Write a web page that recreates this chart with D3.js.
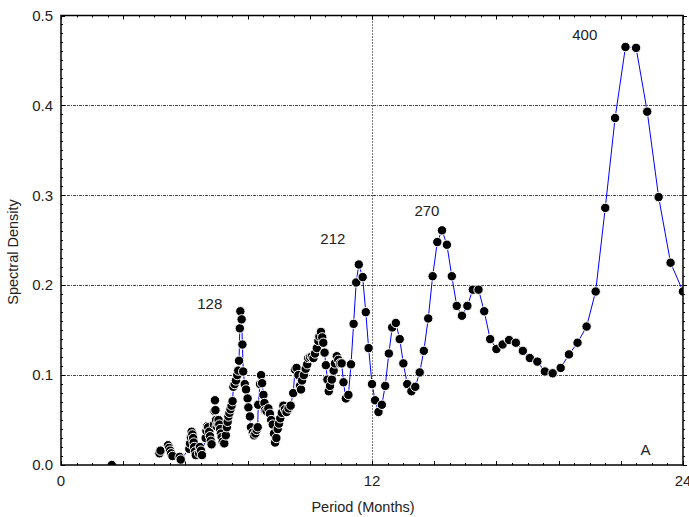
<!DOCTYPE html>
<html>
  <head>
    <script src="https://d3js.org/d3.v7.min.js"></script>
    <style>
      body { margin: 0; background: #fff; }
      text { font-family: "Liberation Sans", Arial, sans-serif; fill: #222; }
    </style>
  </head>
  <body>
    <div id="chart"></div>
    <script>
      // Data (period in months, spectral density)
      const period = [
        3.80, 3.84, 4.13, 4.17, 4.21, 4.25, 4.30, 4.58, 4.62,
        4.95, 4.98, 5.01, 5.04, 5.07, 5.10, 5.12, 5.14, 5.17, 5.20,
        5.33, 5.36, 5.40, 5.44, 5.58, 5.61, 5.64, 5.68, 5.72, 5.75, 5.78, 5.81,
        5.90, 5.92, 5.94, 5.96, 5.98, 6.01, 6.05, 6.08, 6.11, 6.14, 6.17, 6.20,
        6.24, 6.30, 6.36, 6.40, 6.43, 6.46, 6.50, 6.54, 6.58, 6.62, 6.65, 6.70,
        6.75, 6.80, 6.84, 6.87, 6.90, 6.92, 6.97, 7.00, 7.03, 7.09, 7.14, 7.20,
        7.23, 7.29, 7.33, 7.40, 7.45, 7.50, 7.55, 7.59, 7.61, 7.68, 7.72, 7.76,
        7.81, 7.85, 7.87, 7.93, 8.00, 8.06, 8.11, 8.17, 8.22, 8.26, 8.31, 8.36,
        8.41, 8.46, 8.52, 8.58, 8.64, 8.70, 8.78, 8.86, 8.96, 9.03, 9.09, 9.16,
        9.22, 9.26, 9.30, 9.37, 9.44, 9.50, 9.54, 9.61, 9.68, 9.74, 9.80, 9.87,
        9.93, 9.97, 10.03, 10.08, 10.12, 10.17, 10.22, 10.28, 10.33, 10.38, 10.45,
        10.52, 10.57, 10.64, 10.70, 10.77, 10.83, 10.90, 10.99, 11.09, 11.19,
        11.29, 11.39, 11.49, 11.64, 11.76, 11.87, 12.00, 12.12, 12.25, 12.38,
        12.51, 12.65, 12.78, 12.92, 13.07, 13.21, 13.36, 13.52, 13.67, 13.84,
        14.00, 14.17, 14.34, 14.52, 14.70, 14.89, 15.08, 15.27, 15.47, 15.68,
        15.89, 16.11, 16.33, 16.56, 16.80, 17.04, 17.29, 17.55, 17.82, 18.09,
        18.38, 18.67, 18.97, 19.28, 19.60, 19.93, 20.28, 20.63, 21.00, 21.38,
        21.78, 22.19, 22.62, 23.06, 23.52, 24.00
      ];
      const density = [
        0.013, 0.016, 0.022, 0.019, 0.016, 0.013, 0.010, 0.009, 0.006,
        0.018, 0.024, 0.031, 0.037, 0.034, 0.030, 0.025, 0.020, 0.015, 0.011,
        0.013, 0.020, 0.016, 0.011, 0.030, 0.038, 0.043, 0.042, 0.037, 0.032, 0.027, 0.023,
        0.045, 0.060, 0.072, 0.061, 0.050, 0.043, 0.046, 0.050, 0.045, 0.040, 0.035, 0.031,
        0.026, 0.024, 0.033, 0.042, 0.048, 0.054, 0.058, 0.062, 0.066, 0.071, 0.087, 0.090,
        0.094, 0.100, 0.105, 0.116, 0.152, 0.171, 0.162, 0.134, 0.104, 0.090, 0.084, 0.074,
        0.064, 0.054, 0.042, 0.036, 0.033, 0.035, 0.039, 0.042, 0.067, 0.090, 0.100, 0.091,
        0.078, 0.069, 0.061, 0.060, 0.063, 0.057, 0.050, 0.045, 0.035, 0.025, 0.030, 0.040,
        0.046, 0.052, 0.058, 0.066, 0.062, 0.059, 0.063, 0.066, 0.080, 0.106, 0.108, 0.100,
        0.088, 0.084, 0.094, 0.100, 0.107, 0.112, 0.119, 0.120, 0.121, 0.119, 0.124, 0.130,
        0.138, 0.143, 0.148, 0.142, 0.136, 0.125, 0.111, 0.095, 0.082, 0.088, 0.095,
        0.105, 0.113, 0.121, 0.117, 0.113, 0.113, 0.092, 0.074, 0.078, 0.112,
        0.157, 0.203, 0.223, 0.209, 0.170, 0.130, 0.090, 0.072, 0.059, 0.067,
        0.088, 0.124, 0.153, 0.158, 0.140, 0.113, 0.090, 0.082, 0.087, 0.103,
        0.127, 0.163, 0.210, 0.248, 0.261, 0.245, 0.210, 0.177, 0.166, 0.177,
        0.195, 0.195, 0.171, 0.140, 0.129, 0.134, 0.139, 0.136, 0.127, 0.119,
        0.115, 0.104, 0.102, 0.108, 0.123, 0.136, 0.154, 0.193, 0.286, 0.386,
        0.465, 0.464, 0.393, 0.298, 0.225, 0.193
      ];
      // lone point at the Nyquist period
      const nyquistPeriod = [1.96];
      const nyquistDensity = [0.0];

      // peak annotations (data coordinates)
      const peakLabels = ["128", "212", "270", "400", "A"];
      const labelPeriod = [5.74, 10.49, 14.12, 20.21, 22.55];
      const labelDensity = [0.174, 0.246, 0.277, 0.4725, 0.011];

      const xTicks = [0, 12, 24];
      const yTicks = [0.0, 0.1, 0.2, 0.3, 0.4, 0.5];

      // Constants
      const W = 689, H = 517;
      const margin = { top: 15.5, right: 6, bottom: 52, left: 61 };

      const svg = d3.select("#chart")
        .append("svg")
        .attr("width", W)
        .attr("height", H);

      const x = d3.scaleLinear().domain([0, 24]).range([margin.left, W - margin.right]);
      const y = d3.scaleLinear().domain([0, 0.5]).range([H - margin.bottom, margin.top]);

      const x0 = x(0), x1 = x(24), y0 = y(0), y1 = y(0.5);

      svg.append("defs").append("clipPath").attr("id", "plot")
        .append("rect")
        .attr("x", x0).attr("y", y1)
        .attr("width", x1 - x0).attr("height", y0 - y1);

      // grid lines
      svg.append("g")
        .selectAll("line")
        .data([0.1, 0.2, 0.3, 0.4])
        .join("line")
        .attr("x1", x0).attr("x2", x1)
        .attr("y1", d => Math.round(y(d)) + 0.5)
        .attr("y2", d => Math.round(y(d)) + 0.5)
        .attr("stroke", "#444")
        .attr("stroke-width", 1)
        .attr("stroke-dasharray", "3,1,1,1");

      svg.append("line")
        .attr("x1", Math.round(x(12)) + 0.5).attr("x2", Math.round(x(12)) + 0.5)
        .attr("y1", y1).attr("y2", y0)
        .attr("stroke", "#000")
        .attr("stroke-dasharray", "1,2");

      // minor ticks
      const ticks = svg.append("g").attr("stroke", "#000").attr("stroke-width", 1);
      d3.range(0, 51).forEach(i => {
        const yy = Math.round(y(i / 100)) + 0.5;
        const len = i % 10 === 0 ? 4 : 2;
        ticks.append("line").attr("x1", x0).attr("x2", x0 + len).attr("y1", yy).attr("y2", yy);
        ticks.append("line").attr("x1", x1).attr("x2", x1 + len).attr("y1", yy).attr("y2", yy);
      });
      d3.range(0, 41).forEach(i => {
        const xx = Math.round(x(i * 0.6)) + 0.5;
        const len = i % 4 === 0 ? 4 : 2;
        ticks.append("line").attr("x1", xx).attr("x2", xx).attr("y1", y0).attr("y2", y0 - len);
        ticks.append("line").attr("x1", xx).attr("x2", xx).attr("y1", y1).attr("y2", y1 + len);
      });

      // series
      const pts = period.map((p, i) => ({ p, d: density[i] }));
      const line = d3.line().x(d => x(d.p)).y(d => y(d.d));

      const plot = svg.append("g").attr("clip-path", "url(#plot)");

      plot.append("path")
        .datum(pts)
        .attr("d", line)
        .attr("fill", "none")
        .attr("stroke", "#0000ff")
        .attr("stroke-width", 1);

      plot.selectAll("circle.pt")
        .data(pts)
        .join("circle")
        .attr("class", "pt")
        .attr("cx", d => x(d.p))
        .attr("cy", d => y(d.d))
        .attr("r", 4.7)
        .attr("fill", "#000")
        .attr("stroke", "#fff")
        .attr("stroke-width", 1);

      plot.selectAll("circle.ny")
        .data(nyquistPeriod.map((p, i) => ({ p, d: nyquistDensity[i] })))
        .join("circle")
        .attr("class", "ny")
        .attr("cx", d => x(d.p))
        .attr("cy", d => y(d.d))
        .attr("r", 4.7)
        .attr("fill", "#000")
        .attr("stroke", "#fff")
        .attr("stroke-width", 1);

      // frame
      svg.append("rect")
        .attr("x", x0).attr("y", y1)
        .attr("width", x1 - x0).attr("height", y0 - y1)
        .attr("fill", "none")
        .attr("stroke", "#000")
        .attr("stroke-width", 1.5);

      // tick labels
      svg.append("g")
        .selectAll("text")
        .data(yTicks)
        .join("text")
        .attr("x", x0 - 8)
        .attr("y", d => y(d))
        .attr("dy", "0.35em")
        .attr("text-anchor", "end")
        .style("font-size", "15px")
        .text(d => d.toFixed(1));

      svg.append("g")
        .selectAll("text")
        .data(xTicks)
        .join("text")
        .attr("x", d => x(d))
        .attr("y", 486)
        .attr("text-anchor", "middle")
        .style("font-size", "15px")
        .text(d => d);

      // peak labels
      svg.append("g")
        .selectAll("text")
        .data(peakLabels)
        .join("text")
        .attr("x", (d, i) => x(labelPeriod[i]))
        .attr("y", (d, i) => y(labelDensity[i]))
        .attr("text-anchor", "middle")
        .style("font-size", "15px")
        .text(d => d);

      // axis titles
      svg.append("text")
        .attr("x", 363)
        .attr("y", 512)
        .attr("text-anchor", "middle")
        .style("font-size", "14.5px")
        .text("Period (Months)");

      svg.append("text")
        .attr("transform", "translate(18, 252) rotate(-90)")
        .attr("text-anchor", "middle")
        .style("font-size", "14.5px")
        .text("Spectral Density");
    </script>
  </body>
</html>
